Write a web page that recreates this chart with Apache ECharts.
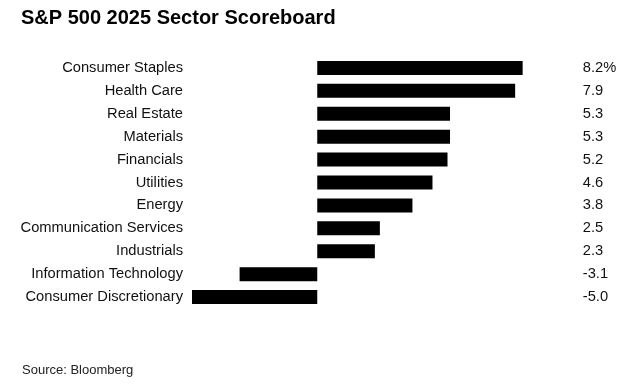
<!DOCTYPE html>
<html>
<head>
<meta charset="utf-8">
<script src="https://cdn.jsdelivr.net/npm/echarts@6/dist/echarts.min.js"></script>
<style>
html,body{margin:0;padding:0;background:#fff;}
#c{width:638px;height:386px;}
</style>
</head>
<body>
<div id="c"></div>
<script>
const categories = ["Consumer Staples","Health Care","Real Estate","Materials","Financials","Utilities","Energy","Communication Services","Industrials","Information Technology","Consumer Discretionary"];
const values = [8.2, 7.9, 5.3, 5.3, 5.2, 4.6, 3.8, 2.5, 2.3, -3.1, -5.0];
const valueLabels = ["8.2%","7.9","5.3","5.3","5.2","4.6","3.8","2.5","2.3","-3.1","-5.0"];

const chart = echarts.init(document.getElementById('c'));
const font = 'Liberation Sans, Arial, Helvetica, sans-serif';
chart.setOption({
  animation: false,
  backgroundColor: '#fff',
  title: [
    {text: 'S&P 500 2025 Sector Scoreboard', left: 16, top: 3,
     textStyle: {fontFamily: font, fontSize: 20, fontWeight: 'bold', color: '#000'}},
    {text: 'Source: Bloomberg', left: 17, top: 359,
     textStyle: {fontFamily: font, fontSize: 13, fontWeight: 'normal', color: '#222'}}
  ],
  grid: {left: 192, right: 70.25, top: 56.5, bottom: 77.5, containLabel: false},
  xAxis: {type: 'value', min: -5, max: 10, show: false},
  yAxis: [
    {type: 'category', data: categories, inverse: true,
     axisLine: {show: false}, axisTick: {show: false}, splitLine: {show: false},
     axisLabel: {margin: 9, fontFamily: font, fontSize: 14.7, color: '#111'}},
    {type: 'category', data: valueLabels, inverse: true, position: 'right',
     axisLine: {show: false}, axisTick: {show: false}, splitLine: {show: false},
     axisLabel: {margin: 15, align: 'left', fontFamily: font, fontSize: 14.7, color: '#111'}}
  ],
  series: [{
    type: 'bar', data: values, barWidth: 14, yAxisIndex: 0,
    itemStyle: {color: '#000'}
  }]
});
</script>
</body>
</html>
